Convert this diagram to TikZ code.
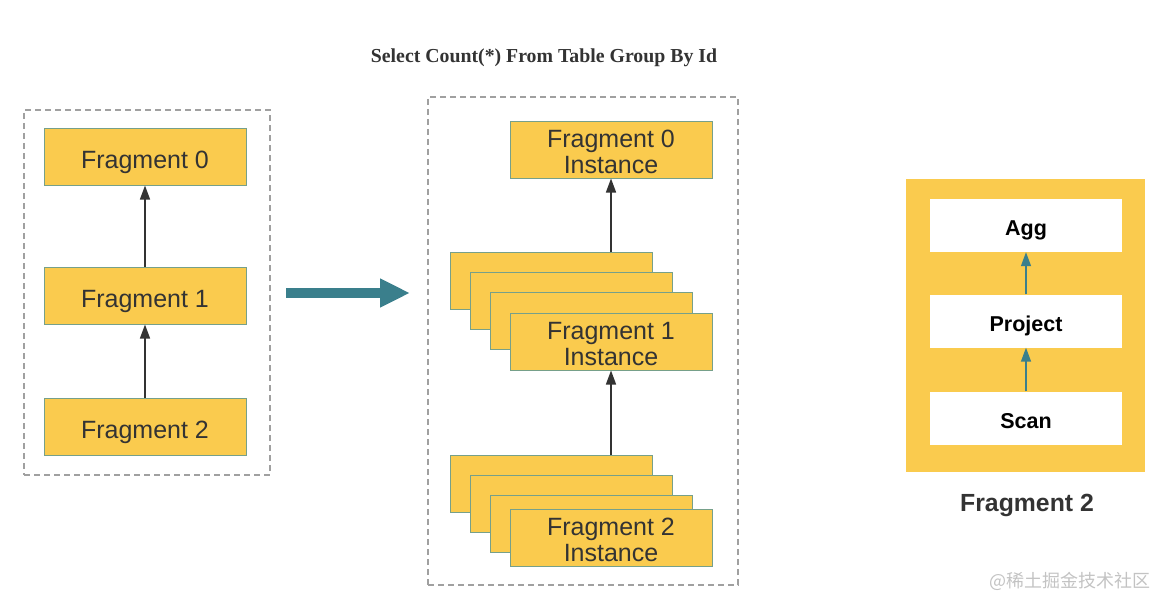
\documentclass[tikz,border=0pt]{standalone}
\usepackage{fontspec}
\setmainfont{Liberation Serif}
\newfontfamily\arial{Liberation Sans}
\newfontfamily\cjk{Noto Sans CJK SC}
\usetikzlibrary{arrows.meta}

\definecolor{fragyellow}{RGB}{250,203,78}
\definecolor{fragedge}{RGB}{118,160,138}
\definecolor{fragtext}{RGB}{51,51,51}
\definecolor{dashgray}{RGB}{160,160,160}
\definecolor{teal}{RGB}{58,127,140}
\definecolor{marktext}{RGB}{195,195,195}

\tikzset{
  frag/.style={draw=fragedge, line width=1pt, fill=fragyellow, inner sep=0pt,
    minimum width=202pt, minimum height=57pt, text=fragtext, align=center,
    font=\arial\fontsize{25}{25.5}\selectfont},
  fragone/.style={frag, text height=24pt, text depth=0pt},
  op/.style={fill=white, inner sep=0pt, minimum width=192pt, minimum height=53pt,
    text height=20.5pt, text depth=0pt,
    font=\arial\bfseries\fontsize{21.5}{23}\selectfont},
  outline/.style={draw=dashgray, line width=1.5pt, dash pattern=on 6pt off 4pt,
    inner sep=0pt},
  up/.style={-{Triangle[length=14pt,width=10pt]}, line width=1.5pt, draw=fragtext},
  tealup/.style={-{Triangle[length=14pt,width=10pt]}, line width=1.5pt, draw=teal}
}

\begin{document}
\begin{tikzpicture}[x=1pt,y=-1pt]
      \useasboundingbox (0,0) rectangle (1170,610);

      \node (title) at (544,58) {\fontsize{19.8}{22}\selectfont\bfseries\color{fragtext}Select Count(*) From Table Group By Id};

      % plan
      \node[outline, minimum width=246pt, minimum height=365pt] (plan) at (147,292.5) {};
      \node[fragone] (F0) at (145,156.5) {Fragment 0};
      \node[fragone] (F1) at (145,295.5) {Fragment 1};
      \node[fragone] (F2) at (145,426.5) {Fragment 2};

      \draw[up] (F1) -- (F0);
      \draw[up] (F2) -- (F1);

      % big arrow
      \coordinate (bigfrom) at (286,293);
      \coordinate (bigto) at (410,293);
      \draw[teal, line width=10pt, -{Triangle[length=30pt,width=27pt]}] (bigfrom) -- (bigto);

      % instances
      \node[outline, minimum width=310pt, minimum height=488pt] (inst) at (583,341) {};
      \node[frag] (I0) at (611,149.5) {\rule{0pt}{22pt}Fragment 0\\Instance};

      \node[frag] (I1a) at (551,281) {};
      \node[frag] (I1b) at (571,301) {};
      \node[frag] (I1c) at (591,321) {};
      \node[frag] (I1) at (611,341.5) {\rule{0pt}{22pt}Fragment 1\\Instance};

      \node[frag] (I2a) at (551,484) {};
      \node[frag] (I2b) at (571,504) {};
      \node[frag] (I2c) at (591,524) {};
      \node[frag] (I2) at (611,537.5) {\rule{0pt}{22pt}Fragment 2\\Instance};

      \draw[up] (I1a.north -| I0.south) -- (I0.south);
      \draw[up] (I2a.north -| I1.south) -- (I1.south);

      % fragment 2 operators
      \node[fill=fragyellow, inner sep=0pt, minimum width=239pt, minimum height=293pt] (frag2) at (1025.5,325) {};
      \node[op] (agg) at (1026,225.5) {Agg};
      \node[op] (project) at (1026,321) {Project};
      \node[op] (scan) at (1026,418) {Scan};

      \draw[tealup] (project) -- (agg);
      \draw[tealup] (scan) -- (project);

      \node[text=fragtext, font=\arial\bfseries\fontsize{24.8}{26}\selectfont] (frag2label) at (1027,505.5) {Fragment 2};

      \node[anchor=east, text=marktext, font=\cjk\fontsize{18}{20}\selectfont] (mark) at (1154,581) {@稀土掘金技术社区};
    \end{tikzpicture}
\end{document}
